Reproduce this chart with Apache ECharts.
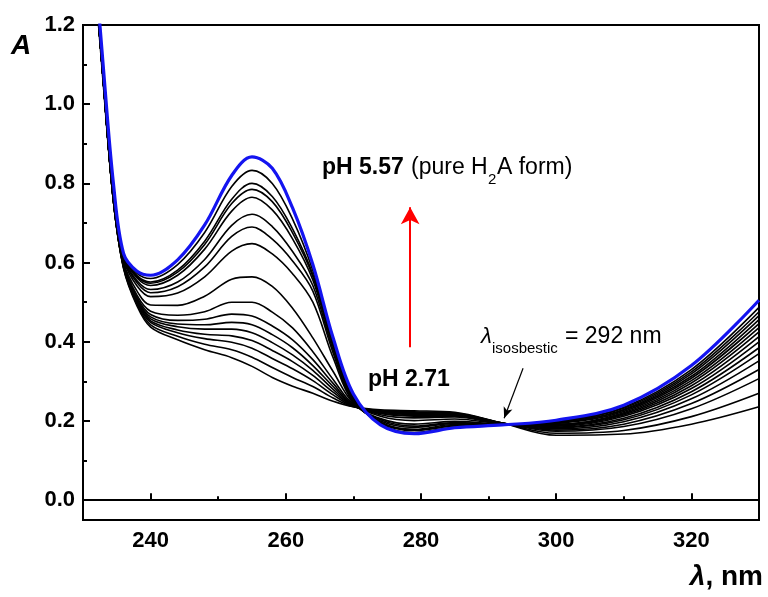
<!DOCTYPE html>
<html>
<head>
<meta charset="utf-8">
<script src="https://cdn.jsdelivr.net/npm/echarts@6/dist/echarts.min.js"></script>
<style>
html, body { margin: 0; padding: 0; background: #fff; }
#chart { width: 768px; height: 597px; }
</style>
</head>
<body>
<div id="chart"></div>
<script>
// wavelengths (nm) where the spectra were read
var wavelength = [231, 233, 234.5, 236, 238, 240, 244, 248, 252, 255, 258, 261, 264, 267, 270, 274, 279, 285, 292, 300, 310, 320, 330];

// pH 5.57 (blue) ... pH 2.71 (lowest), absorbance values
var absPH557 = [1.52, 1.095, 0.80, 0.623, 0.578, 0.568, 0.607, 0.695, 0.82, 0.867, 0.838, 0.738, 0.595, 0.41, 0.268, 0.19, 0.168, 0.183, 0.19, 0.202, 0.24, 0.34, 0.505];
var absC01 = [1.49, 1.06, 0.765, 0.621, 0.573, 0.56, 0.595, 0.676, 0.792, 0.833, 0.80, 0.71, 0.58, 0.40, 0.262, 0.192, 0.171, 0.185, 0.19, 0.199, 0.235, 0.33, 0.487];
var absC02 = [1.49, 1.06, 0.764, 0.618, 0.567, 0.551, 0.581, 0.654, 0.76, 0.80, 0.767, 0.685, 0.57, 0.395, 0.258, 0.195, 0.176, 0.188, 0.19, 0.198, 0.232, 0.324, 0.476];
var absC03 = [1.49, 1.06, 0.764, 0.617, 0.564, 0.548, 0.576, 0.646, 0.749, 0.785, 0.754, 0.675, 0.565, 0.392, 0.256, 0.196, 0.177, 0.189, 0.191, 0.196, 0.229, 0.319, 0.466];
var absC04 = [1.49, 1.06, 0.763, 0.616, 0.561, 0.542, 0.568, 0.634, 0.73, 0.765, 0.733, 0.66, 0.556, 0.388, 0.254, 0.197, 0.179, 0.191, 0.191, 0.195, 0.227, 0.313, 0.456];
var absC05 = [1.49, 1.06, 0.762, 0.613, 0.554, 0.532, 0.551, 0.608, 0.694, 0.722, 0.691, 0.628, 0.542, 0.38, 0.25, 0.20, 0.184, 0.194, 0.191, 0.194, 0.224, 0.308, 0.446];
var absC06 = [1.49, 1.06, 0.761, 0.61, 0.549, 0.524, 0.539, 0.589, 0.666, 0.69, 0.659, 0.604, 0.528, 0.372, 0.248, 0.203, 0.187, 0.196, 0.192, 0.192, 0.221, 0.302, 0.436];
var absC07 = [1.49, 1.06, 0.76, 0.607, 0.541, 0.514, 0.523, 0.564, 0.629, 0.648, 0.622, 0.572, 0.50, 0.36, 0.246, 0.206, 0.192, 0.199, 0.192, 0.191, 0.218, 0.296, 0.425];
var absC08 = [1.49, 1.06, 0.759, 0.601, 0.528, 0.493, 0.492, 0.515, 0.558, 0.564, 0.54, 0.485, 0.41, 0.325, 0.245, 0.212, 0.201, 0.205, 0.193, 0.189, 0.215, 0.289, 0.413];
var absC09 = [1.49, 1.06, 0.758, 0.597, 0.517, 0.477, 0.467, 0.476, 0.50, 0.50, 0.475, 0.435, 0.375, 0.305, 0.242, 0.216, 0.208, 0.21, 0.193, 0.187, 0.212, 0.282, 0.40];
var absC10 = [1.49, 1.06, 0.757, 0.594, 0.512, 0.469, 0.454, 0.457, 0.47, 0.465, 0.44, 0.405, 0.355, 0.295, 0.24, 0.219, 0.212, 0.212, 0.194, 0.185, 0.207, 0.274, 0.385];
var absC11 = [1.49, 1.06, 0.757, 0.593, 0.508, 0.463, 0.445, 0.443, 0.449, 0.443, 0.418, 0.385, 0.34, 0.287, 0.239, 0.22, 0.214, 0.214, 0.194, 0.183, 0.203, 0.266, 0.37];
var absC12 = [1.49, 1.06, 0.756, 0.591, 0.505, 0.458, 0.438, 0.432, 0.432, 0.423, 0.398, 0.367, 0.328, 0.28, 0.238, 0.222, 0.216, 0.216, 0.194, 0.18, 0.198, 0.256, 0.352];
var absC13 = [1.49, 1.06, 0.756, 0.59, 0.501, 0.453, 0.43, 0.419, 0.415, 0.403, 0.378, 0.35, 0.315, 0.273, 0.238, 0.223, 0.219, 0.217, 0.195, 0.177, 0.192, 0.244, 0.33];
var absC14 = [1.49, 1.06, 0.755, 0.588, 0.498, 0.449, 0.423, 0.408, 0.399, 0.384, 0.358, 0.332, 0.302, 0.266, 0.237, 0.225, 0.221, 0.219, 0.195, 0.174, 0.186, 0.231, 0.307];
var absC15 = [1.49, 1.06, 0.755, 0.587, 0.494, 0.443, 0.414, 0.394, 0.38, 0.361, 0.335, 0.31, 0.287, 0.258, 0.236, 0.226, 0.223, 0.22, 0.195, 0.169, 0.176, 0.211, 0.27];
var absPH271 = [1.48, 1.05, 0.755, 0.585, 0.49, 0.437, 0.405, 0.38, 0.36, 0.338, 0.31, 0.288, 0.27, 0.25, 0.236, 0.228, 0.226, 0.222, 0.195, 0.164, 0.167, 0.192, 0.236];

var blackCurves = [absC01, absC02, absC03, absC04, absC05, absC06, absC07, absC08,
    absC09, absC10, absC11, absC12, absC13, absC14, absC15, absPH271];

// ticks
var majorX = [240, 260, 280, 300, 320];
var minorX = [250, 270, 290, 310];
var majorY = [0, 0.2, 0.4, 0.6, 0.8, 1.0, 1.2];
var minorY = [0.1, 0.3, 0.5, 0.7, 0.9, 1.1];

// arrows (wavelength, absorbance)
var arrowPH = [[278.4, 0.386], [278.4, 0.74]];
var arrowIso = [[295.1, 0.333], [292.3, 0.207]];

var FONT = '"Liberation Sans", Arial, sans-serif';

function pairs(ys) {
    return wavelength.map(function (x, i) { return [x, ys[i]]; });
}

var series = [];
blackCurves.forEach(function (c) {
    series.push({
        type: 'line', data: pairs(c), smooth: 0.35, showSymbol: false,
        lineStyle: { color: '#000', width: 1.6 }, silent: true
    });
});
series.push({
    type: 'line', data: pairs(absPH557), smooth: 0.35, showSymbol: false, z: 5,
    lineStyle: { color: '#1414f0', width: 3.2 }, silent: true
});
// arrows
series.push({
    type: 'line', data: [], silent: true,
    markLine: {
        silent: true, animation: false,
        symbol: ['none', 'arrow'], symbolSize: [14, 17],
        label: { show: false },
        lineStyle: { color: '#ff0000', width: 2, type: 'solid' },
        data: [[{ coord: arrowPH[0] }, { coord: arrowPH[1] }]]
    }
});
series.push({
    type: 'line', data: [], silent: true,
    markLine: {
        silent: true, animation: false,
        symbol: ['none', 'arrow'], symbolSize: [7, 11],
        label: { show: false },
        lineStyle: { color: '#000', width: 1.2, type: 'solid' },
        data: [[{ coord: arrowIso[0] }, { coord: arrowIso[1] }]]
    }
});

var chart = echarts.init(document.getElementById('chart'));
chart.setOption({
    animation: false,
    backgroundColor: '#fff',
    grid: { left: 83, right: 9, top: 25, bottom: 77, show: true, borderColor: '#000', borderWidth: 2 },
    xAxis: [{
        type: 'value', min: 230, max: 330, position: 'bottom',
        axisLine: { lineStyle: { color: '#000', width: 2 } },
        axisTick: { inside: true, length: 7, customValues: majorX, lineStyle: { color: '#000', width: 2 } },
        axisLabel: { customValues: majorX, margin: 10, color: '#000', fontFamily: FONT, fontWeight: 'bold', fontSize: 22 },
        splitLine: { show: false }
    }, {
        type: 'value', min: 230, max: 330, position: 'bottom',
        axisLine: { show: false },
        axisTick: { inside: true, length: 4, customValues: minorX, lineStyle: { color: '#000', width: 2 } },
        axisLabel: { show: false },
        splitLine: { show: false }
    }],
    yAxis: [{
        type: 'value', min: -0.05, max: 1.2, position: 'left',
        axisLine: { show: true, lineStyle: { color: '#000', width: 2 } },
        axisTick: { show: true, inside: true, length: 7, customValues: majorY, lineStyle: { color: '#000', width: 2 } },
        axisLabel: {
            customValues: majorY, margin: 8, color: '#000', fontFamily: FONT, fontWeight: 'bold', fontSize: 22,
            formatter: function (v) { return v.toFixed(1); }
        },
        splitLine: { show: false }
    }, {
        type: 'value', min: -0.05, max: 1.2, position: 'left',
        axisLine: { show: false },
        axisTick: { show: true, inside: true, length: 4, customValues: minorY, lineStyle: { color: '#000', width: 2 } },
        axisLabel: { show: false },
        splitLine: { show: false }
    }],
    series: series,
    graphic: [
        { type: 'text', x: 11, y: 46, style: { text: 'A', font: 'italic bold 28px ' + FONT, fill: '#000', verticalAlign: 'middle' } },
        { type: 'text', x: 763, y: 577, style: {
            text: '{l|λ}{n|, nm}', align: 'right', verticalAlign: 'middle',
            rich: { l: { font: 'italic bold 28px ' + FONT, fill: '#000' }, n: { font: 'bold 28px ' + FONT, fill: '#000' } }
        } },
        { type: 'text', x: 322, y: 168, style: { text: 'pH 5.57', font: 'bold 23px ' + FONT, fill: '#000', verticalAlign: 'middle' } },
        { type: 'text', x: 411, y: 168, style: { text: '(pure H', font: '23px ' + FONT, fill: '#000', verticalAlign: 'middle' } },
        { type: 'text', x: 488, y: 180, style: { text: '2', font: '15px ' + FONT, fill: '#000', verticalAlign: 'middle' } },
        { type: 'text', x: 497, y: 168, style: { text: 'A form)', font: '23px ' + FONT, fill: '#000', verticalAlign: 'middle' } },
        { type: 'text', x: 368, y: 380, style: { text: 'pH 2.71', font: 'bold 23px ' + FONT, fill: '#000', verticalAlign: 'middle' } },
        { type: 'text', x: 481, y: 337, style: { text: 'λ', font: 'italic 22px ' + FONT, fill: '#000', verticalAlign: 'middle' } },
        { type: 'text', x: 492, y: 349, style: { text: 'isosbestic', font: '15px ' + FONT, fill: '#000', verticalAlign: 'middle' } },
        { type: 'text', x: 565, y: 337, style: { text: '= 292 nm', font: '23px ' + FONT, fill: '#000', verticalAlign: 'middle' } }
    ]
});
</script>
</body>
</html>
